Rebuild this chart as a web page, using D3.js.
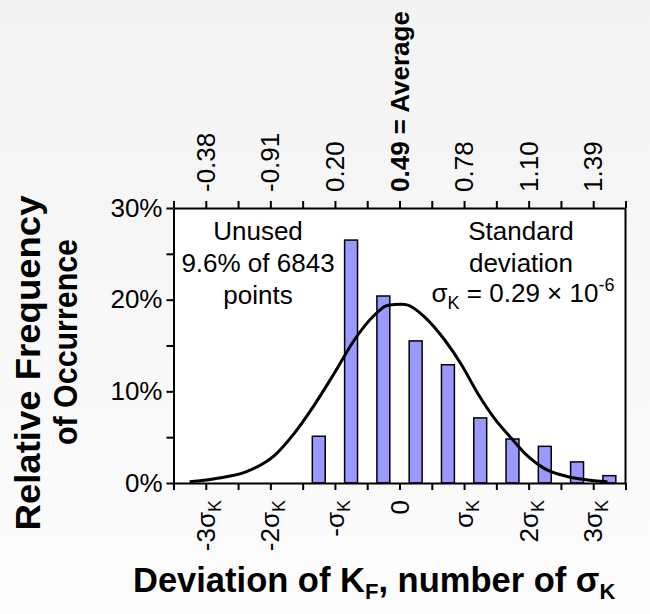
<!DOCTYPE html>
<html>
<head>
<meta charset="utf-8">
<script src="https://cdn.jsdelivr.net/npm/d3@7.9.0/dist/d3.min.js"></script>
<style>
  body { margin: 0; background: #fff; }
  svg { display: block; font-family: "Liberation Sans", Arial, sans-serif; }
</style>
</head>
<body>
<svg id="chart" width="650" height="614"></svg>
<script>
// histogram bins (in units of sigma) and their relative frequency (%)
const binCenters = [-1.25, -0.75, -0.25, 0.25, 0.75, 1.25, 1.75, 2.25, 2.75, 3.25];
const freq = [5.1, 26.5, 20.4, 15.5, 12.9, 7.1, 4.8, 4.0, 2.3, 0.8];

// normal curve, points
const curveSigma = [-3.25, -2.86, -2.37, -1.93, -1.63, -1.32, -1.01, -0.70, -0.39, -0.18, 0.03, 0.13, 0.39, 0.70, 0.96, 1.21, 1.47, 1.73, 1.99, 2.24, 2.61, 3.02, 3.22];
const curvePct = [0.14, 0.47, 1.23, 3.05, 5.42, 8.5, 11.97, 15.6, 18.3, 19.4, 19.5, 19.4, 18.1, 15.6, 12.9, 9.8, 7.06, 4.9, 2.9, 1.6, 0.69, 0.25, 0.14];

// tick labels
const sigmaTicks = [-3, -2, -1, 0, 1, 2, 3];
const topLabels = ['-0.38', '-0.91', '0.20', '0.49 = Average', '0.78', '1.10', '1.39'];
const bottomLabels = [['-3σ', 'K'], ['-2σ', 'K'], ['-σ', 'K'], ['0', ''], ['σ', 'K'], ['2σ', 'K'], ['3σ', 'K']];
const yTicks = [0, 5, 10, 15, 20, 25, 30];

const svg = d3.select('#chart');
const pLeft = 173.5, pRight = 625.5, pTop = 208, pBottom = 483;

const x = d3.scaleLinear().domain([-3.5, 3.5]).range([pLeft, pRight]);
const y = d3.scaleLinear().domain([0, 30]).range([pBottom, pTop]);

// background
const grad = svg.append('defs').append('linearGradient').attr('id', 'bg')
  .attr('x1', 0).attr('y1', 0).attr('x2', 0).attr('y2', 1);
grad.append('stop').attr('offset', '0%').attr('stop-color', '#f3f3f3');
grad.append('stop').attr('offset', '100%').attr('stop-color', '#fcfcfc');
svg.append('rect').attr('width', 650).attr('height', 614).attr('fill', 'url(#bg)');
svg.append('rect').attr('x', pLeft).attr('y', pTop).attr('width', pRight - pLeft).attr('height', pBottom - pTop).attr('fill', '#fff');

// bars
const barW = (x(0.5) - x(0)) * 0.4;
svg.append('g').selectAll('rect').data(binCenters).join('rect')
  .attr('x', d => x(d) - barW / 2)
  .attr('y', (d, i) => y(freq[i]))
  .attr('width', barW)
  .attr('height', (d, i) => y(0) - y(freq[i]))
  .attr('fill', '#9999ff')
  .attr('stroke', '#000')
  .attr('stroke-width', 1.5);

// normal curve
const line = d3.line().x(d => x(d[0])).y(d => y(d[1])).curve(d3.curveMonotoneX);
svg.append('path')
  .attr('d', line(d3.zip(curveSigma, curvePct)))
  .attr('fill', 'none')
  .attr('stroke', '#000')
  .attr('stroke-width', 3);

// axes
const halfSteps = d3.range(-3.5, 3.51, 0.5);
const styleAxis = g => {
  g.select('.domain').attr('stroke', '#000').attr('stroke-width', 2);
  g.selectAll('.tick line').attr('stroke', '#000').attr('stroke-width', 2);
};

svg.append('g').attr('transform', `translate(${pLeft},0)`)
  .call(d3.axisLeft(y).tickValues(yTicks).tickSize(7).tickSizeOuter(0).tickPadding(4)
    .tickFormat(d => d % 10 === 0 ? d + '%' : ''))
  .call(styleAxis)
  .call(g => g.selectAll('text').attr('font-size', 26).attr('fill', '#000').attr('font-family', null));

svg.append('g').attr('transform', `translate(0,${pTop})`)
  .call(d3.axisTop(x).tickValues(halfSteps).tickSize(7).tickSizeOuter(0).tickFormat(''))
  .call(styleAxis);

svg.append('g').attr('transform', `translate(0,${pBottom})`)
  .call(d3.axisBottom(x).tickValues(halfSteps).tickSize(7).tickSizeOuter(0).tickFormat(''))
  .call(styleAxis);

svg.append('line').attr('x1', pRight).attr('x2', pRight).attr('y1', pTop).attr('y2', pBottom)
  .attr('stroke', '#000').attr('stroke-width', 2);

// top labels (rotated)
svg.append('g').selectAll('text').data(sigmaTicks).join('text')
  .attr('transform', d => `translate(${x(d)},192) rotate(-90)`)
  .attr('dy', '0.35em')
  .attr('font-size', 26)
  .attr('font-weight', d => d === 0 ? 'bold' : null)
  .text((d, i) => topLabels[i]);

// bottom labels (rotated, with subscript K)
svg.append('g').selectAll('text').data(sigmaTicks).join('text')
  .attr('transform', d => `translate(${x(d)},500) rotate(-90)`)
  .attr('text-anchor', 'end')
  .attr('dy', '0.35em')
  .attr('font-size', 26)
  .each(function(d, i) {
    const t = d3.select(this);
    t.append('tspan').text(bottomLabels[i][0]);
    if (bottomLabels[i][1]) t.append('tspan').attr('dy', 6).attr('font-size', 18).text(bottomLabels[i][1]);
  });

// annotations
const note = svg.append('g').attr('font-size', 26).attr('text-anchor', 'middle');
note.append('text').attr('x', 258).attr('y', 240).text('Unused');
note.append('text').attr('x', 258).attr('y', 272).text('9.6% of 6843');
note.append('text').attr('x', 258).attr('y', 304).text('points');
note.append('text').attr('x', 521).attr('y', 240).text('Standard');
note.append('text').attr('x', 521).attr('y', 272).text('deviation');
const sd = note.append('text').attr('x', 523).attr('y', 302);
sd.append('tspan').text('σ');
sd.append('tspan').attr('dy', 7).attr('font-size', 18).text('K');
sd.append('tspan').attr('dy', -7).text(' = 0.29 × 10');
sd.append('tspan').attr('dy', -11).attr('font-size', 18).text('-6');

// axis titles
svg.append('text')
  .attr('transform', 'translate(40,363) rotate(-90)')
  .attr('text-anchor', 'middle').attr('font-size', 35).attr('font-weight', 'bold')
  .attr('textLength', 335).attr('lengthAdjust', 'spacingAndGlyphs')
  .text('Relative Frequency');
svg.append('text')
  .attr('transform', 'translate(77,342) rotate(-90)')
  .attr('text-anchor', 'middle').attr('font-size', 33).attr('font-weight', 'bold')
  .attr('textLength', 206).attr('lengthAdjust', 'spacingAndGlyphs')
  .text('of Occurrence');

const xt = svg.append('text').attr('x', 133).attr('y', 592).attr('font-size', 34.5).attr('font-weight', 'bold');
xt.append('tspan').text('Deviation of K');
xt.append('tspan').attr('dy', 7).attr('font-size', 22).text('F');
xt.append('tspan').attr('dy', -7).text(', number of σ');
xt.append('tspan').attr('dy', 7).attr('font-size', 22).text('K');
</script>
</body>
</html>
